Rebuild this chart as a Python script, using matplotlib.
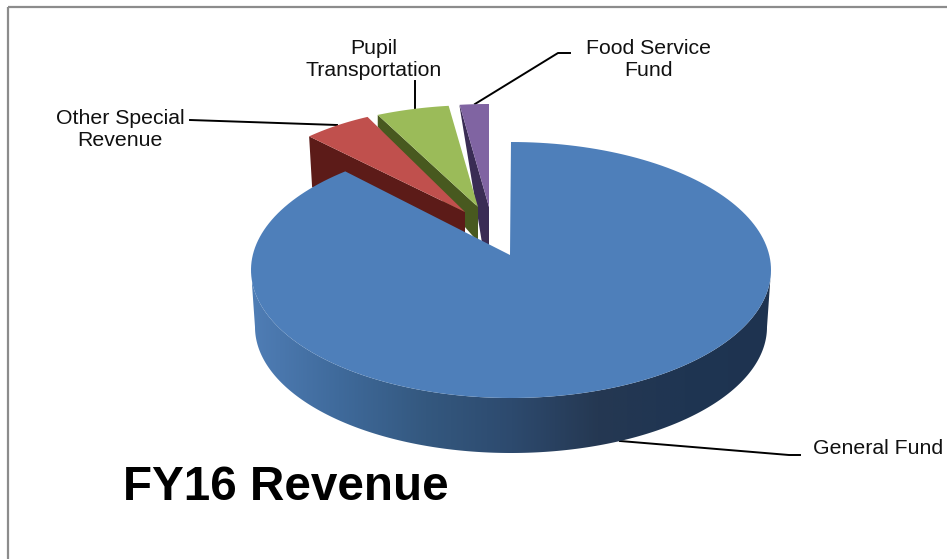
import numpy as np
import matplotlib
matplotlib.use('Agg')
import matplotlib.pyplot as plt
from matplotlib.colors import LinearSegmentedColormap
from matplotlib.patches import Polygon, Rectangle

plt.rcParams['font.family'] = ['Liberation Sans', 'DejaVu Sans']

categories = ['General Fund', 'Other Special\nRevenue', 'Pupil\nTransportation', 'Food Service\nFund']
values = [89.0, 4.7, 4.5, 1.8]
face_colors = ['#4e7fba', '#c0504d', '#9bbb59', '#8064a2']
wall_colors = ['#2a4568', '#5c1b18', '#48591f', '#3a2c54']

fig = plt.figure(figsize=(9.47, 5.59), dpi=100)
ax = fig.add_axes([0, 0, 1, 1])
ax.set_xlim(0, 947)
ax.set_ylim(559, 0)
ax.axis('off')

RX, RY = 260, 128

# slices run clockwise from 12 o'clock
edges = np.concatenate([[0], np.cumsum(values)]) / sum(values) * 360


def rim(cx, cy, a0, a1, rx=RX, ry=RY):
    t = np.radians(np.linspace(a0, a1, 200))
    return np.column_stack([cx + rx * np.sin(t), cy - ry * np.cos(t)])


# small slices, back to front: centre, rx, apex, wall drop at rim, foot shift, drop at apex
small = {
    3: ((489, 232), RX, (489, 207), 2, -6, 42),
    2: ((478, 233), RX, (478, 207), 12, 0, 35),
    1: ((457, 235), 232, (465, 212), 51, 0, 25),
}
for i, (c, rx, apex, drop_out, foot, drop_in) in small.items():
    arc = rim(c[0], c[1], edges[i], edges[i + 1], rx)
    out = arc[0]
    wall = [out, (out[0] + 3 * (drop_out > 20), out[1] + drop_out),
            (apex[0] + foot, apex[1] + drop_in), (apex[0], apex[1] + drop_in), apex]
    ax.add_patch(Polygon(wall, closed=True, fc=wall_colors[i], ec='none', zorder=2))
    ax.add_patch(Polygon(np.vstack([[apex], arc]), closed=True, fc=face_colors[i],
                         ec='none', zorder=3))

# general fund: side wall with a left to right shading, then the top face
cx, cy = 511, 270
top_front = rim(cx, cy, 90, 270)
bot_front = rim(cx, cy + 57, 90, 270, 256, 126)
side = Polygon(np.vstack([top_front, bot_front[::-1]]), closed=True, fc='none', ec='none')
ax.add_patch(side)
side_cmap = LinearSegmentedColormap.from_list(
    'side', ['#4f7db5', '#3f6a9b', '#34587f', '#2d4a6e', '#253852', '#1f3552', '#1e3350'])
img = ax.imshow(np.linspace(0, 1, 256)[None, :], cmap=side_cmap, aspect='auto',
                extent=(252, 772, 470, 260), zorder=4)
img.set_clip_path(side)
ax.set_xlim(0, 947)
ax.set_ylim(559, 0)

arc = rim(cx, cy, edges[0], edges[1])
ax.add_patch(Polygon(np.vstack([[(510, 255)], arc]), closed=True, fc=face_colors[0],
                     ec='none', zorder=5))

# leader lines, under the slice faces
leaders = [
    ([620, 789, 800], [441, 455, 455]),
    ([190, 337], [120, 125]),
    ([415, 415], [81, 108]),
    ([475, 558, 570], [104, 53, 53]),
]
for xs, ys in leaders:
    ax.plot(xs, ys, color='black', lw=1.4, zorder=2.5)

label_style = dict(fontsize=15.3, ha='center', va='center', color='#111111', linespacing=1.2)
ax.text(878, 449, categories[0], **label_style)
ax.text(120, 129, categories[1], **label_style)
ax.text(374, 60, categories[2], **label_style)
ax.text(648, 60, categories[3], **label_style)
ax.text(286, 487, 'FY16 Revenue', fontsize=34.3, fontweight='bold', ha='center', va='center', color='black')

# frame
ax.add_patch(Rectangle((8, 7), 960, 560, fc='none', ec='#8c8c8c', lw=1.6, zorder=1))

fig.savefig('out.png', dpi=100)
